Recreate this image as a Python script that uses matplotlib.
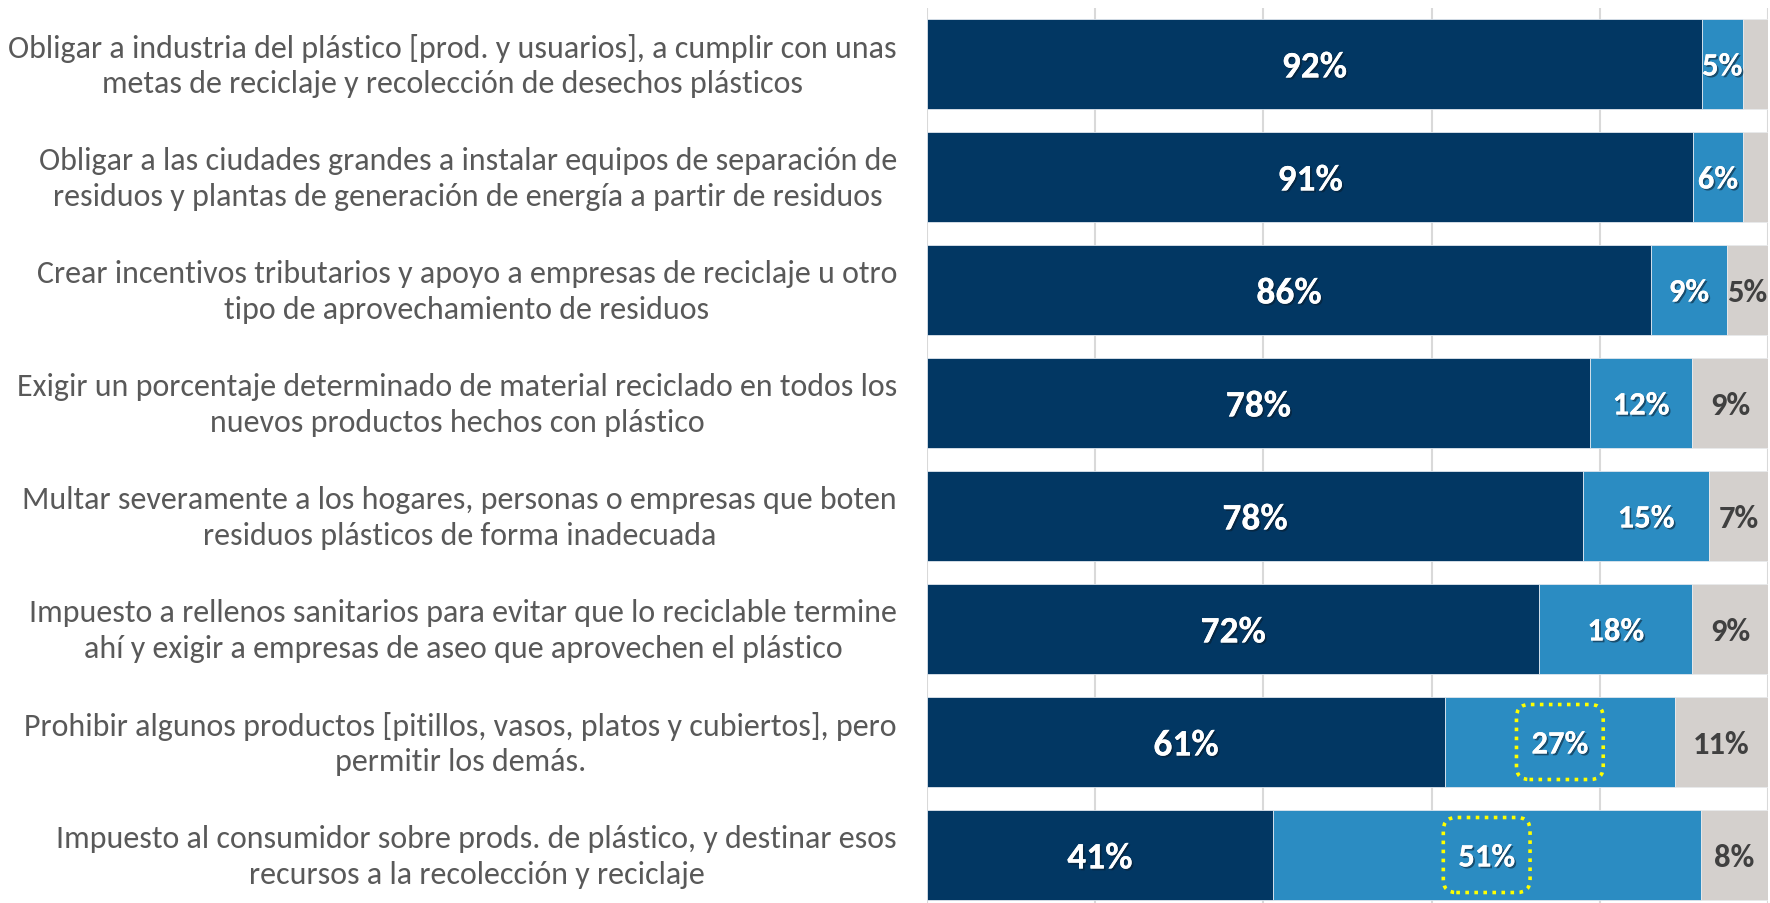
import matplotlib
matplotlib.use("Agg")
import matplotlib.pyplot as plt
import matplotlib.patheffects as pe
from matplotlib import font_manager
from matplotlib.patches import FancyBboxPatch
from matplotlib.transforms import offset_copy
import numpy as np

# ---------------- data ----------------
categories = [
    "Obligar a industria del plástico [prod. y usuarios], a cumplir con unas\nmetas de reciclaje y recolección de desechos plásticos",
    "Obligar a las ciudades grandes a instalar equipos de separación de\nresiduos y plantas de generación de energía a partir de residuos",
    "Crear incentivos tributarios y apoyo a empresas de reciclaje u otro\ntipo de aprovechamiento de residuos",
    "Exigir un porcentaje determinado de material reciclado en todos los\nnuevos productos hechos con plástico",
    "Multar severamente a los hogares, personas o empresas que boten\nresiduos plásticos de forma inadecuada",
    "Impuesto a rellenos sanitarios para evitar que lo reciclable termine\nahí y exigir a empresas de aseo que aprovechen el plástico",
    "Prohibir algunos productos [pitillos, vasos, platos y cubiertos], pero\npermitir los demás.",
    "Impuesto al consumidor sobre prods. de plástico, y destinar esos\nrecursos a la recolección y reciclaje",
]
dark_vals = [92.1, 91.1, 86.1, 78.8, 78.0, 72.8, 61.6, 41.1]
light_vals = [4.9, 5.9, 9.0, 12.2, 15.0, 18.2, 27.3, 50.9]
gray_vals = [3.0, 3.0, 4.9, 9.0, 7.0, 9.0, 11.1, 8.0]
dark_labels = ["92%", "91%", "86%", "78%", "78%", "72%", "61%", "41%"]
light_labels = ["5%", "6%", "9%", "12%", "15%", "18%", "27%", "51%"]
gray_labels = ["", "", "5%", "9%", "7%", "9%", "11%", "8%"]
highlight = [False, False, False, False, False, False, True, True]
xticks = [0, 20, 40, 60, 80, 100]

# ---------------- style ----------------
names = {f.name for f in font_manager.fontManager.ttflist}
FONT = "Carlito" if "Carlito" in names else "Open Sans"
plt.rcParams["font.family"] = [FONT, "DejaVu Sans"]

C_DARK = "#023763"
C_LIGHT = "#2B8CC2"
C_GRAY = "#D4D0CD"

W, H = 1770, 904
fig = plt.figure(figsize=(W / 100, H / 100), dpi=100)
ax = fig.add_axes([927 / W, 0, (1768 - 927) / W, 1 - 9 / H])

y = np.arange(len(categories))
h = 0.8
dark = np.array(dark_vals)
light = np.array(light_vals)
gray = np.array(gray_vals)

ax.barh(y, dark, height=h, color=C_DARK, edgecolor="#dfe6ee", linewidth=0.6, zorder=2)
ax.barh(y, light, left=dark, height=h, color=C_LIGHT, edgecolor="#dfe6ee", linewidth=0.6, zorder=2)
ax.barh(y, gray, left=dark + light, height=h, color=C_GRAY, edgecolor="#e8eaec", linewidth=0.6, zorder=2)

ax.set_xlim(0, 100)
ax.set_ylim((H - 65) / 113, (9 - 65) / 113)
ax.set_xticks(xticks)
ax.xaxis.grid(True, color="#d9d9d9", linewidth=1.5, zorder=0)
ax.set_axisbelow(True)
ax.tick_params(axis="x", length=0, labelbottom=False)
ax.set_yticks([])
for s in ax.spines.values():
    s.set_visible(False)

# category labels (right-aligned block, centred lines)
label_tr = offset_copy(ax.get_yaxis_transform(), fig=fig, x=-30, y=-1, units="dots")
for i, cat in enumerate(categories):
    ax.text(0, y[i], cat, transform=label_tr, ha="right", va="center",
            multialignment="center", fontsize=23, color="#595959",
            linespacing=1.34, clip_on=False)

shadow = [pe.withSimplePatchShadow(offset=(1.3, -1.3), shadow_rgbFace="#0a1a2a", alpha=0.55), pe.Normal()]

boxed = []
for i in range(len(categories)):
    ax.text(dark[i] / 2, y[i], dark_labels[i], ha="center", va="center_baseline",
            fontsize=27, fontweight="bold", color="white", path_effects=shadow, zorder=3)
    t = ax.text(dark[i] + light[i] / 2, y[i], light_labels[i], ha="center", va="center_baseline",
                fontsize=23.5, fontweight="bold", color="white", path_effects=shadow, zorder=3)
    if highlight[i]:
        boxed.append((t, y[i]))
    if gray_labels[i]:
        ax.text(dark[i] + light[i] + gray[i] / 2, y[i], gray_labels[i], ha="center", va="center_baseline",
                fontsize=23.5, fontweight="bold", color="#404040", zorder=3)

# dotted yellow highlight boxes around selected labels
fig.canvas.draw()
renderer = fig.canvas.get_renderer()
for t, yi in boxed:
    bb = t.get_window_extent(renderer)
    cx = (bb.x0 + bb.x1) / 2
    cy = ax.transData.transform((0, yi))[1]
    bw, bh = bb.width + 2 * 15, 75
    patch = FancyBboxPatch((cx - bw / 2, cy - bh / 2), bw, bh,
                           boxstyle="round,pad=0,rounding_size=13",
                           transform=None, fc="none", ec="#FFFF00", lw=2.6,
                           ls=(0, (1, 1.5)), zorder=4)
    fig.add_artist(patch)

fig.savefig("out.png", dpi=100)
